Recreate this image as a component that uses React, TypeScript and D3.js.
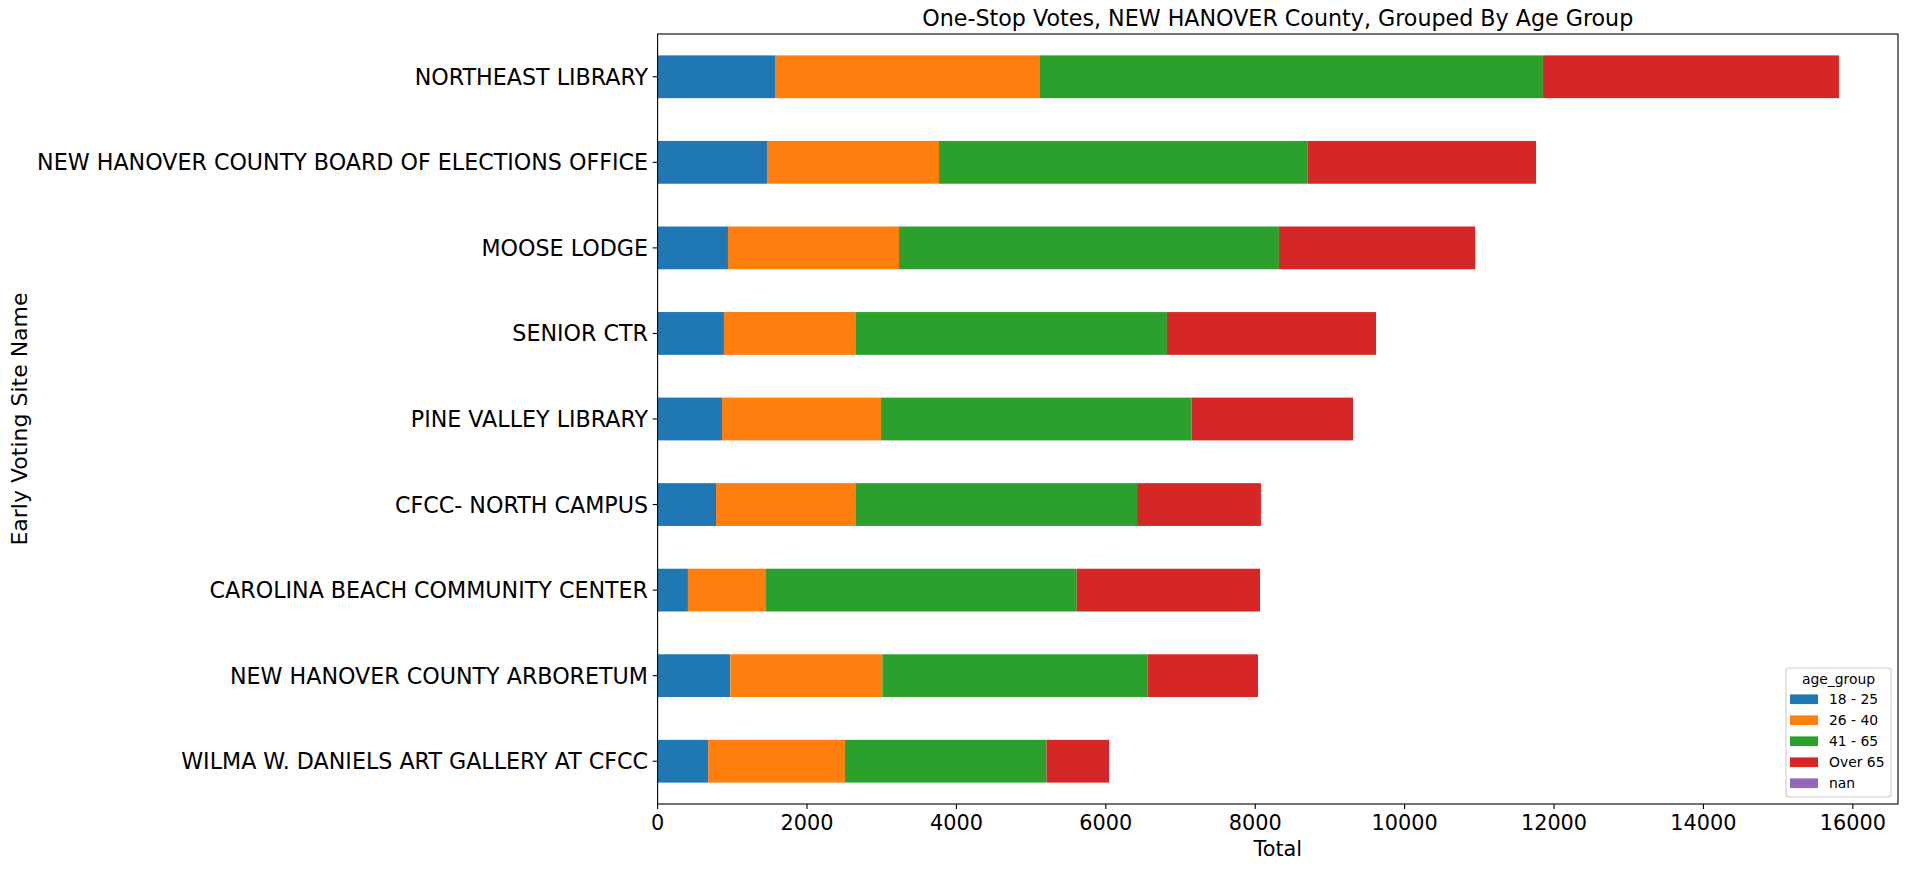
import React from "react";
import * as d3 from "d3";

const sites = [
  "NORTHEAST LIBRARY",
  "NEW HANOVER COUNTY BOARD OF ELECTIONS OFFICE",
  "MOOSE LODGE",
  "SENIOR CTR",
  "PINE VALLEY LIBRARY",
  "CFCC- NORTH CAMPUS",
  "CAROLINA BEACH COMMUNITY CENTER",
  "NEW HANOVER COUNTY ARBORETUM",
  "WILMA W. DANIELS ART GALLERY AT CFCC",
];
const ageGroups = ["18 - 25", "26 - 40", "41 - 65", "Over 65", "nan"];
const age18to25 = [1572, 1464, 942, 888, 862, 782, 406, 973, 677];
const age26to40 = [3547, 2303, 2290, 1768, 2129, 1874, 1045, 2036, 1830];
const age41to65 = [6732, 4931, 5085, 4162, 4158, 3762, 4160, 3551, 2699];
const ageOver65 = [3963, 3061, 2629, 2799, 2160, 1659, 2453, 1477, 837];
const ageNan = [0, 0, 0, 0, 0, 0, 0, 0, 0];
const xTicks = [0, 2000, 4000, 6000, 8000, 10000, 12000, 14000, 16000];
const colors = ["#1f77b4", "#ff7f0e", "#2ca02c", "#d62728", "#9467bd"];

const W = 1907;
const H = 869;
const left = 657.6;
const right = 1898;
const top = 34;
const bottom = 804;
const FONT = "DejaVu Sans, sans-serif";

export default function App() {
  const series = [age18to25, age26to40, age41to65, ageOver65, ageNan];
  const rows = sites.map((s, i) => {
    const r: any = { site: s };
    ageGroups.forEach((g, k) => (r[g] = series[k][i]));
    return r;
  });
  const stacked = d3.stack<any>().keys(ageGroups)(rows);
  const totals = rows.map((r) => ageGroups.reduce((a, g) => a + r[g], 0));
  const xMax = (d3.max(totals) as number) * 1.05;
  const x = d3.scaleLinear().domain([0, xMax]).range([left, right]);
  const y = d3
    .scaleBand<string>()
    .domain(sites)
    .range([top, bottom])
    .paddingInner(0.5)
    .paddingOuter(0.25);

  const legX = 1786;
  const legY = 668;
  return (
    <svg
      width={W}
      height={H}
      style={{ position: "absolute", left: 0, top: 0, background: "#fff" }}
      fontFamily={FONT}
    >
      <rect x={0} y={0} width={W} height={H} fill="#fff" />
      {stacked.map((layer, k) =>
        layer.map((d, i) => (
          <rect
            key={`${k}-${i}`}
            x={x(d[0])}
            y={y(sites[i])}
            width={Math.max(0, x(d[1]) - x(d[0]))}
            height={y.bandwidth()}
            fill={colors[k]}
          />
        ))
      )}
      {/* spines */}
      <rect
        x={left}
        y={top}
        width={right - left}
        height={bottom - top}
        fill="none"
        stroke="#000"
        strokeWidth={1.1}
      />
      {/* x ticks */}
      {xTicks.map((t) => (
        <g key={t}>
          <line x1={x(t)} x2={x(t)} y1={bottom} y2={bottom + 4.9} stroke="#000" strokeWidth={1.1} />
          <text x={x(t)} y={830} textAnchor="middle" fontSize={20.8} fill="#000">
            {t}
          </text>
        </g>
      ))}
      {/* y ticks */}
      {sites.map((s) => {
        const cy = (y(s) as number) + y.bandwidth() / 2;
        return (
          <g key={s}>
            <line x1={left - 4.9} x2={left} y1={cy} y2={cy} stroke="#000" strokeWidth={1.1} />
            <text x={648} y={cy} dy="0.36em" textAnchor="end" fontSize={22.2} fill="#000">
              {s}
            </text>
          </g>
        );
      })}
      <text x={(left + right) / 2} y={26} textAnchor="middle" fontSize={22.2} fill="#000">
        One-Stop Votes, NEW HANOVER County, Grouped By Age Group
      </text>
      <text x={(left + right) / 2} y={856} textAnchor="middle" fontSize={20.8} fill="#000">
        Total
      </text>
      <text
        transform={`translate(27,${(top + bottom) / 2}) rotate(-90)`}
        textAnchor="middle"
        fontSize={22}
        fill="#000"
      >
        Early Voting Site Name
      </text>
      {/* legend */}
      <rect
        x={legX}
        y={legY}
        width={105}
        height={129}
        rx={3}
        fill="#fff"
        fillOpacity={0.8}
        stroke="#cccccc"
        strokeWidth={1.1}
      />
      <text x={legX + 52.5} y={684} textAnchor="middle" fontSize={13.9} fill="#000">
        age_group
      </text>
      {ageGroups.map((g, k) => {
        const cy = 699.3 + k * 21;
        return (
          <g key={g}>
            <rect x={1790} y={cy - 4.9} width={28} height={9.7} fill={colors[k]} />
            <text x={1829} y={cy + 5} fontSize={13.9} fill="#000">
              {g}
            </text>
          </g>
        );
      })}
    </svg>
  );
}
